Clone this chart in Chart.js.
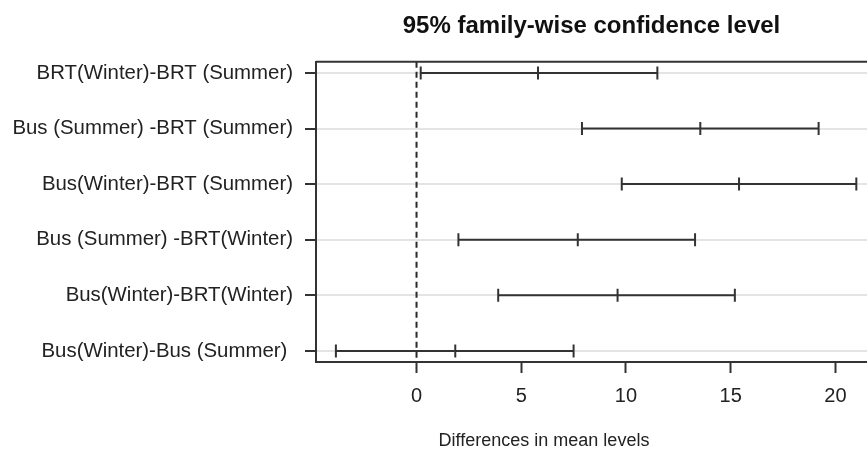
<!DOCTYPE html>
<html>
<head>
<meta charset="utf-8">
<script src="https://cdn.jsdelivr.net/npm/chart.js@4"></script>
<style>
  html, body { margin: 0; padding: 0; background: #fff; overflow: hidden; }
  canvas { display: block; }
</style>
</head>
<body>
<canvas id="tukey-chart" width="867" height="452"></canvas>
<script>
// Tukey HSD comparisons, top to bottom
const comparisons = [
  "BRT(Winter)-BRT (Summer)",
  "Bus (Summer) -BRT (Summer)",
  "Bus(Winter)-BRT (Summer)",
  "Bus (Summer) -BRT(Winter)",
  "Bus(Winter)-BRT(Winter)",
  "Bus(Winter)-Bus (Summer) "
];
const lowerBound = [0.2, 7.9, 9.8, 2.0, 3.9, -3.85];
const meanDiff = [5.8, 13.55, 15.4, 7.7, 9.6, 1.85];
const upperBound = [11.5, 19.2, 21.0, 13.3, 15.2, 7.5];
const xTicks = [0, 5, 10, 15, 20];
const rowPos = [1, 2, 3, 4, 5, 6];

const FONT = "'Liberation Sans', Arial, sans-serif";
const INK = "#333";

// one small line per comparison: lwr -- diff -- upr, with vertical caps
const datasets = comparisons.map(function (name, i) {
  return {
    label: name,
    data: [
      { x: lowerBound[i], y: rowPos[i] },
      { x: meanDiff[i], y: rowPos[i] },
      { x: upperBound[i], y: rowPos[i] }
    ],
    showLine: true,
    borderColor: INK,
    borderWidth: 2,
    pointStyle: "line",
    rotation: 90,
    pointRadius: 6.5,
    pointHoverRadius: 6.5,
    pointBorderColor: INK,
    pointBorderWidth: 2
  };
});

// top frame line, dashed zero line and the x axis label
const frameAndLabels = {
  id: "frameAndLabels",
  beforeDatasetsDraw(chart) {
    const { ctx, chartArea, scales } = chart;
    const x0 = scales.x.getPixelForValue(0);
    ctx.save();
    ctx.strokeStyle = "#2a2a2a";
    ctx.lineWidth = 2;
    ctx.setLineDash([6, 4]);
    ctx.beginPath();
    ctx.moveTo(x0, chartArea.top);
    ctx.lineTo(x0, chartArea.bottom);
    ctx.stroke();
    ctx.setLineDash([]);
    ctx.strokeStyle = "#333";
    ctx.beginPath();
    ctx.moveTo(chartArea.left, chartArea.top);
    ctx.lineTo(chartArea.right, chartArea.top);
    ctx.stroke();
    ctx.restore();
  },
  afterDraw(chart) {
    const { ctx, chartArea } = chart;
    ctx.save();
    ctx.fillStyle = "#222";
    ctx.font = "18px " + FONT;
    ctx.textAlign = "center";
    ctx.textBaseline = "middle";
    ctx.fillText("Differences in mean levels", chartArea.left + 228, 441);
    ctx.restore();
  }
};

new Chart(document.getElementById("tukey-chart"), {
  type: "scatter",
  data: { datasets: datasets },
  options: {
    responsive: false,
    animation: false,
    layout: { padding: 0, autoPadding: false },
    plugins: {
      legend: { display: false },
      tooltip: { enabled: false },
      title: {
        display: true,
        text: "95% family-wise confidence level",
        fullSize: false,
        color: "#111",
        font: { family: FONT, size: 24, weight: "bold" },
        padding: { top: 12, bottom: 21 }
      }
    },
    scales: {
      x: {
        type: "linear",
        min: -4.8,
        max: 21.51,
        afterBuildTicks: function (scale) {
          scale.ticks = xTicks.map(v => ({ value: v }));
        },
        afterFit: function (scale) {
          scale.height = 90;
          scale.paddingLeft = 0;
          scale.paddingRight = 0;
        },
        grid: { drawOnChartArea: false, tickLength: 11, tickColor: "#333", tickWidth: 2 },
        border: { color: "#333", width: 2 },
        ticks: { color: "#222", padding: 11, font: { family: FONT, size: 20 } }
      },
      y: {
        type: "linear",
        reverse: true,
        min: 0.8,
        max: 6.2,
        afterBuildTicks: function (scale) {
          scale.ticks = rowPos.map(v => ({ value: v }));
        },
        afterFit: function (scale) {
          scale.width = 316;
          scale.paddingTop = 0;
          scale.paddingBottom = 0;
        },
        grid: { color: "#e4e4e4", lineWidth: 2, tickLength: 11, tickColor: "#333", tickWidth: 2 },
        border: { color: "#333", width: 2 },
        ticks: {
          color: "#222",
          padding: 12,
          font: { family: FONT, size: 20.4 },
          callback: function (value) { return comparisons[value - 1]; }
        }
      }
    }
  },
  plugins: [frameAndLabels]
});
</script>
</body>
</html>
